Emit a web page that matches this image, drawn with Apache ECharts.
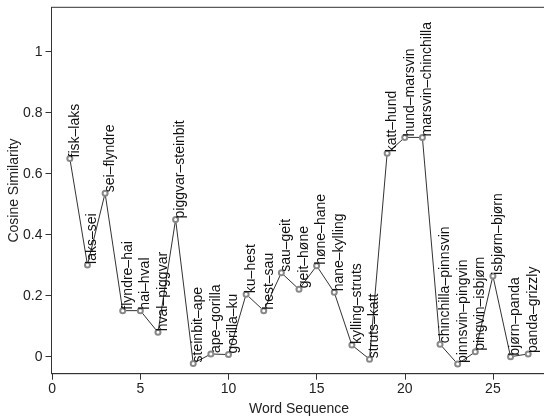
<!DOCTYPE html>
<html>
<head>
<meta charset="utf-8">
<script src="https://cdn.jsdelivr.net/npm/echarts@6/dist/echarts.min.js"></script>
<style>
  html, body { margin: 0; padding: 0; background: #fff; }
  #chart { width: 544px; height: 416px; }
</style>
</head>
<body>
<div id="chart"></div>
<script>
// Consecutive word pairs along the sequence
const pairs = [
  'fisk\u2013laks', 'laks\u2013sei', 'sei\u2013flyndre', 'flyndre\u2013hai', 'hai\u2013hval',
  'hval\u2013piggvar', 'piggvar\u2013steinbit', 'steinbit\u2013ape', 'ape\u2013gorilla', 'gorilla\u2013ku',
  'ku\u2013hest', 'hest\u2013sau', 'sau\u2013geit', 'geit\u2013h\u00f8ne', 'h\u00f8ne\u2013hane',
  'hane\u2013kylling', 'kylling\u2013struts', 'struts\u2013katt', 'katt\u2013hund', 'hund\u2013marsvin',
  'marsvin\u2013chinchilla', 'chinchilla\u2013pinnsvin', 'pinnsvin\u2013pingvin', 'pingvin\u2013isbj\u00f8rn',
  'isbj\u00f8rn\u2013bj\u00f8rn', 'bj\u00f8rn\u2013panda', 'panda\u2013grizzly'
];

// Cosine similarity of each pair
const similarity = [
  0.650, 0.301, 0.536, 0.151, 0.151,
  0.080, 0.450, -0.022, 0.009, 0.007,
  0.205, 0.151, 0.275, 0.221, 0.298,
  0.211, 0.038, -0.008, 0.667, 0.719,
  0.719, 0.041, -0.024, 0.016, 0.265,
  0.000, 0.009
];

const xTicks = [0, 5, 10, 15, 20, 25];
const yTicks = [0, 0.2, 0.4, 0.6, 0.8, 1];

const font = 'Liberation Sans, Arial, Helvetica, sans-serif';
const ink = '#222';
const axisColor = '#333';

const seriesData = similarity.map((v, i) => [i + 1, v]);

const chart = echarts.init(document.getElementById('chart'), null, { renderer: 'canvas' });

chart.setOption({
  animation: false,
  backgroundColor: '#fff',
  grid: {
    left: 51.5,
    top: 7.3,
    right: -2.5,
    bottom: 42.3,
    outerBoundsMode: 'none',
    show: true,
    borderColor: axisColor,
    borderWidth: 1,
    backgroundColor: 'transparent'
  },
  xAxis: {
    type: 'value',
    min: -0.04,
    max: 28.04,
    name: 'Word Sequence',
    nameLocation: 'middle',
    nameGap: 28,
    nameMoveOverlap: false,
    nameTextStyle: { fontFamily: font, fontSize: 14, color: ink },
    splitLine: { show: false },
    axisLine: { show: true, onZero: false, lineStyle: { color: axisColor, width: 1 } },
    axisTick: { show: true, length: 6, customValues: xTicks, lineStyle: { color: axisColor } },
    axisLabel: {
      customValues: xTicks,
      margin: 8,
      fontFamily: font,
      fontSize: 14,
      color: ink
    }
  },
  yAxis: {
    type: 'value',
    min: -0.0557,
    max: 1.1456,
    name: 'Cosine Similarity',
    nameLocation: 'middle',
    nameGap: 30,
    nameRotate: 90,
    nameMoveOverlap: false,
    nameTextStyle: { fontFamily: font, fontSize: 14, color: ink },
    splitLine: { show: false },
    axisLine: { show: true, onZero: false, lineStyle: { color: axisColor, width: 1 } },
    axisTick: { show: true, length: 6, customValues: yTicks, lineStyle: { color: axisColor } },
    axisLabel: {
      customValues: yTicks,
      margin: 9,
      fontFamily: font,
      fontSize: 14,
      color: ink,
      formatter: v => String(Math.round(v * 10) / 10)
    }
  },
  series: [{
    type: 'line',
    data: seriesData,
    symbol: 'emptyCircle',
    symbolSize: 5,
    showSymbol: true,
    showAllSymbol: true,
    lineStyle: { color: '#333', width: 1 },
    itemStyle: { color: '#888', borderWidth: 1 },
    label: {
      show: true,
      formatter: p => pairs[p.dataIndex],
      rotate: 90,
      position: [1.5, 2.5],
      align: 'left',
      verticalAlign: 'top',
      fontFamily: font,
      fontSize: 14,
      color: '#111'
    },
    emphasis: { disabled: true }
  }]
});
</script>
</body>
</html>
